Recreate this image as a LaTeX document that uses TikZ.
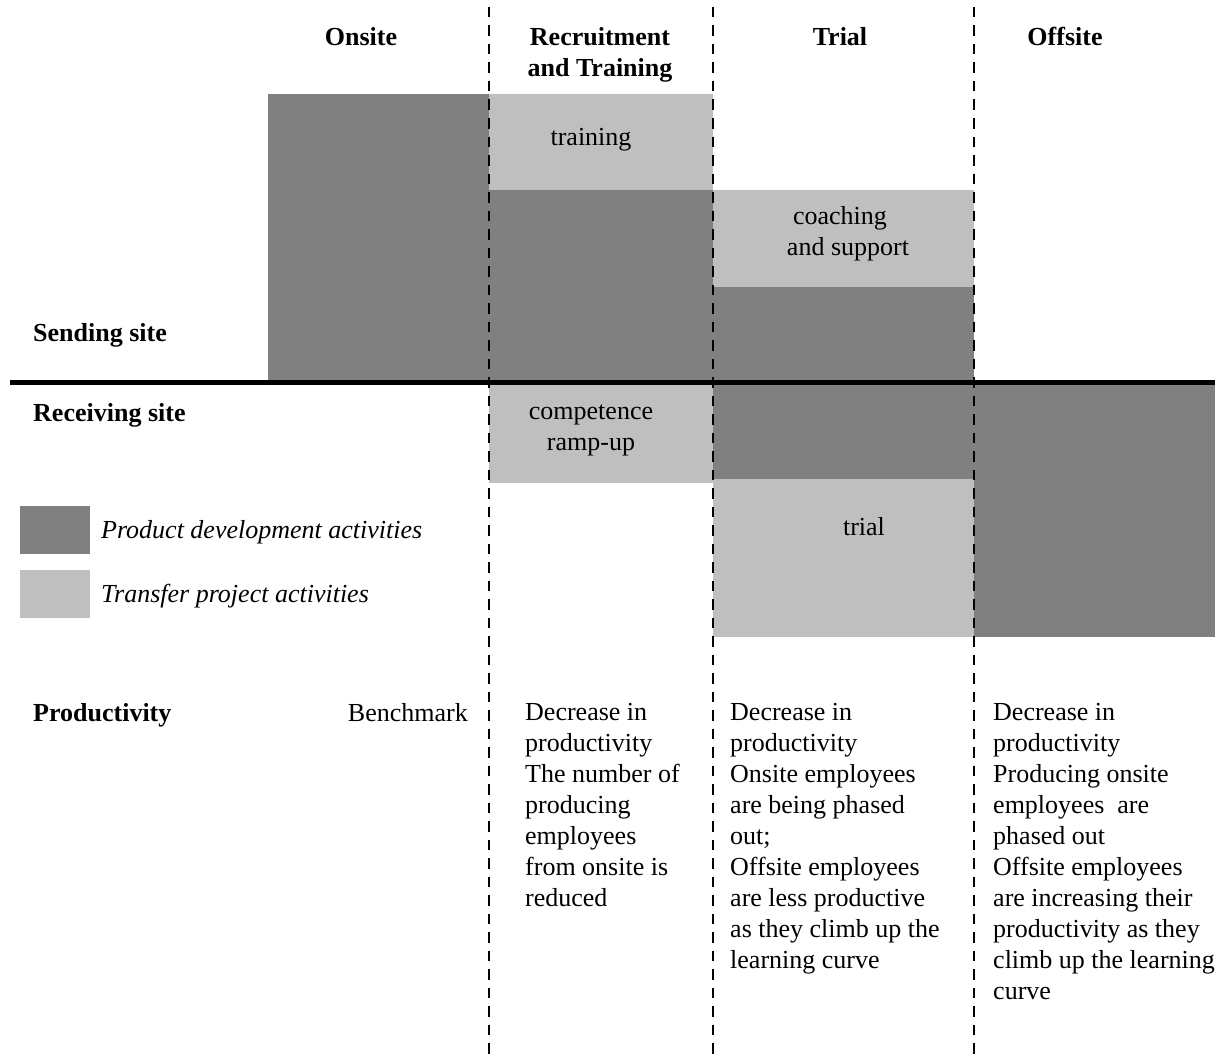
\documentclass[tikz,border=0pt]{standalone}
\usepackage{fontspec}
\setmainfont{Liberation Serif}
\definecolor{darkg}{HTML}{808080}
\definecolor{lightg}{HTML}{BFBFBF}
\newcommand{\fsz}{\fontsize{26}{31}\selectfont}
\begin{document}
\begin{tikzpicture}[x=1pt,y=-1pt,
  darkbox/.style={fill=darkg},
  lightbox/.style={fill=lightg},
  txt/.style={font=\fsz, inner sep=0pt},
  hdr/.style={font=\fsz\bfseries, inner sep=0pt},
  coltxt/.style={font=\fsz, inner sep=0pt, align=left, anchor=north west},
  divider/.style={dash pattern=on 10.5pt off 8pt, line width=2.7pt},
  siteline/.style={line width=5pt}]
\useasboundingbox (0,0) rectangle (1227,1057);
% sending site
\fill[darkbox] (268,94) rectangle (489,382);
\fill[lightbox] (489,94) rectangle (713,190);
\fill[darkbox] (489,190) rectangle (713,382);
\fill[lightbox] (713,190) rectangle (974,287);
\fill[darkbox] (713,287) rectangle (974,382);
% receiving site
\fill[lightbox] (489,382) rectangle (713,483);
\fill[darkbox] (713,382) rectangle (974,479);
\fill[lightbox] (713,479) rectangle (974,637);
\fill[darkbox] (974,382) rectangle (1215,637);
% legend
\fill[darkbox] (20,506) rectangle (90,554);
\fill[lightbox] (20,570) rectangle (90,618);
% dividers
\coordinate (d1t) at (489,7); \coordinate (d1b) at (489,1057);
\coordinate (d2t) at (713,7); \coordinate (d2b) at (713,1057);
\coordinate (d3t) at (974,7); \coordinate (d3b) at (974,1057);
\draw[divider] (d1t) -- (d1b);
\draw[divider] (d2t) -- (d2b);
\draw[divider] (d3t) -- (d3b);
\coordinate (sl) at (10,382.5); \coordinate (sr) at (1215,382.5);
\draw[siteline] (sl) -- (sr);
% headers
\node[hdr, anchor=base] (h1) at (361,46) {Onsite};
\node[hdr, anchor=base] (h2a) at (600,46) {Recruitment};
\node[hdr, anchor=base] (h2b) at (600,77) {and Training};
\node[hdr, anchor=base] (h3) at (840,46) {Trial};
\node[hdr, anchor=base] (h4) at (1065,46) {Offsite};
% box labels
\node[txt, anchor=base] (tr) at (591,146) {training};
\node[txt, anchor=base] (co1) at (840,224) {coaching};
\node[txt, anchor=base] (co2) at (848,255) {and support};
\node[txt, anchor=base] (cr1) at (591,419) {competence};
\node[txt, anchor=base] (cr2) at (591,450) {ramp-up};
\node[txt, anchor=base] (tl) at (864,535) {trial};
% site labels
\node[hdr, anchor=base west] (ss) at (33,341) {Sending site};
\node[hdr, anchor=base west] (rs) at (33,421) {Receiving site};
% legend text
\node[txt, anchor=base west] (lg1) at (101,538) {\itshape Product development activities};
\node[txt, anchor=base west] (lg2) at (101,602) {\itshape Transfer project activities};
% productivity
\node[hdr, anchor=base west] (pr) at (33,721) {Productivity};
\node[txt, anchor=base east] (bm) at (468,721) {Benchmark};
\node[coltxt] (c2) at (525,703) {Decrease in\\productivity\\The number of\\producing\\employees\\from onsite is\\reduced};
\node[coltxt] (c3) at (730,703) {Decrease in\\productivity\\Onsite employees\\are being phased\\out;\\Offsite employees\\are less productive\\as they climb up the\\learning curve};
\node[coltxt] (c4) at (993,703) {Decrease in\\productivity\\Producing onsite\\employees\ \ are\\phased out\\Offsite employees\\are increasing their\\productivity as they\\climb up the learning\\curve};
\end{tikzpicture}
\end{document}
